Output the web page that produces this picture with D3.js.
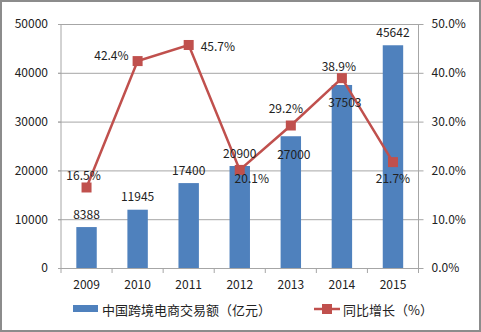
<!DOCTYPE html>
<html><head><meta charset="utf-8">
<script src="https://cdn.jsdelivr.net/npm/d3@7"></script>
<style>
body{margin:0;background:#fff;}
svg text{font-family:"Noto Sans CJK SC","Noto Sans",sans-serif;fill:#222;}
</style></head>
<body><svg id="c" width="481" height="332"></svg>
<script>
const years = ["2009","2010","2011","2012","2013","2014","2015"];
const amount = [8388, 11945, 17400, 20900, 27000, 37503, 45642];
const growth = [16.5, 42.4, 45.7, 20.1, 29.2, 38.9, 21.7];
const leftTicks = [0, 10000, 20000, 30000, 40000, 50000];
const rightTicks = [0, 10, 20, 30, 40, 50];
const seriesNames = ["中国跨境电商交易额（亿元）", "同比增长（%）"];
// label placement hints (style, not data)
const barLabelPos = ["above","above","above","above","inside","inside","above"];
const lineLabelPos = ["above","left","right","belowright","aboveleft","above","below"];

const svg = d3.select("#c");
svg.append("rect").attr("x",1).attr("y",1).attr("width",479).attr("height",330)
  .attr("fill","#fff").attr("stroke","#8c8c8c").attr("stroke-width",2);

const L = 61, R = 418.5, T = 24, B = 268;
const x = d3.scaleBand().domain(years).range([L, R]).paddingInner(0.6).paddingOuter(0.3);
const xb = d3.scaleBand().domain(years).range([L, R]);
const yL = d3.scaleLinear().domain([0, 50000]).range([B, T]);
const yR = d3.scaleLinear().domain([0, 50]).range([B, T]);

// gridlines
svg.append("g").selectAll("line").data(leftTicks.filter(d=>d>0)).join("line")
  .attr("x1", L-3).attr("x2", R).attr("y1", d=>yL(d)+0.5).attr("y2", d=>yL(d)+0.5)
  .attr("stroke","#a6a6a6").attr("stroke-width",1);

// left axis
const gl = svg.append("g").attr("transform",`translate(${L},0)`)
  .call(d3.axisLeft(yL).tickValues(leftTicks).tickSize(3).tickPadding(10).tickFormat(d3.format("d")));
gl.select(".domain").attr("stroke","#a6a6a6").attr("d",`M0,${T}V${B}`);
gl.selectAll(".tick line").attr("stroke","#a6a6a6");
gl.selectAll("text").attr("font-size","12px").attr("fill","#222");

// right axis
const gr = svg.append("g").attr("transform",`translate(${R},0)`)
  .call(d3.axisRight(yR).tickValues(rightTicks).tickSize(5).tickPadding(8).tickFormat(d=>d.toFixed(1)+"%"));
gr.select(".domain").attr("stroke","#a6a6a6").attr("d",`M0,${T}V${B}`);
gr.selectAll(".tick line").attr("stroke","#a6a6a6");
gr.selectAll("text").attr("font-size","12px").attr("fill","#222");

// bottom axis
const gb = svg.append("g").attr("transform",`translate(0,${B})`)
  .call(d3.axisBottom(xb).tickSize(0).tickPadding(12));
gb.select(".domain").attr("stroke","#a6a6a6").attr("d",`M${L},0.5H${R}`);
gb.selectAll("text").attr("font-size","12px").attr("fill","#222");
svg.append("g").selectAll("line").data(d3.range(years.length+1)).join("line")
  .attr("x1", i=>L + i*xb.step()).attr("x2", i=>L + i*xb.step())
  .attr("y1", B).attr("y2", B+5).attr("stroke","#a6a6a6");

// bars
svg.append("g").selectAll("rect").data(amount).join("rect")
  .attr("x",(d,i)=>x(years[i])).attr("width",x.bandwidth())
  .attr("y",d=>yL(d)).attr("height",d=>B-yL(d)).attr("fill","#4f81bd");

// line
const cx = i => xb(years[i]) + xb.bandwidth()/2;
svg.append("path").datum(growth)
  .attr("d", d3.line().x((d,i)=>cx(i)).y(d=>yR(d)))
  .attr("fill","none").attr("stroke","#c0504d").attr("stroke-width",2.5);
svg.append("g").selectAll("rect").data(growth).join("rect")
  .attr("x",(d,i)=>cx(i)-5).attr("y",d=>yR(d)-5).attr("width",10).attr("height",10)
  .attr("fill","#c0504d");

// bar labels
svg.append("g").selectAll("text").data(amount).join("text")
  .attr("x",(d,i)=>cx(i)+ (barLabelPos[i]==="inside"?3:0))
  .attr("y",(d,i)=>barLabelPos[i]==="inside" ? yL(d)+17 : yL(d)-14)
  .attr("text-anchor","middle").attr("dominant-baseline","central")
  .attr("font-size","12px").text(d=>d);

// line labels
const off = {above:[-3,-13,"middle"], left:[-9,-7,"end"], right:[12,1,"start"],
  belowright:[12,8,"middle"], aboveleft:[-5,-18,"middle"], below:[0,15,"middle"]};
svg.append("g").selectAll("text").data(growth).join("text")
  .attr("x",(d,i)=>cx(i)+off[lineLabelPos[i]][0])
  .attr("y",(d,i)=>yR(d)+off[lineLabelPos[i]][1])
  .attr("text-anchor",(d,i)=>off[lineLabelPos[i]][2])
  .attr("dominant-baseline","central")
  .attr("font-size","12px").text(d=>d.toFixed(1)+"%");

// legend
const lg = svg.append("g");
lg.append("rect").attr("x",73).attr("y",305).attr("width",25).attr("height",7).attr("fill","#4f81bd");
lg.append("text").attr("x",102).attr("y",309).attr("dominant-baseline","central")
  .attr("font-size","13px").text(seriesNames[0]);
lg.append("line").attr("x1",314).attr("x2",340).attr("y1",309).attr("y2",309)
  .attr("stroke","#c0504d").attr("stroke-width",2.5);
lg.append("rect").attr("x",322).attr("y",304).attr("width",10).attr("height",10).attr("fill","#c0504d");
lg.append("text").attr("x",343).attr("y",309).attr("dominant-baseline","central")
  .attr("font-size","13px").text(seriesNames[1]);
</script></body></html>
